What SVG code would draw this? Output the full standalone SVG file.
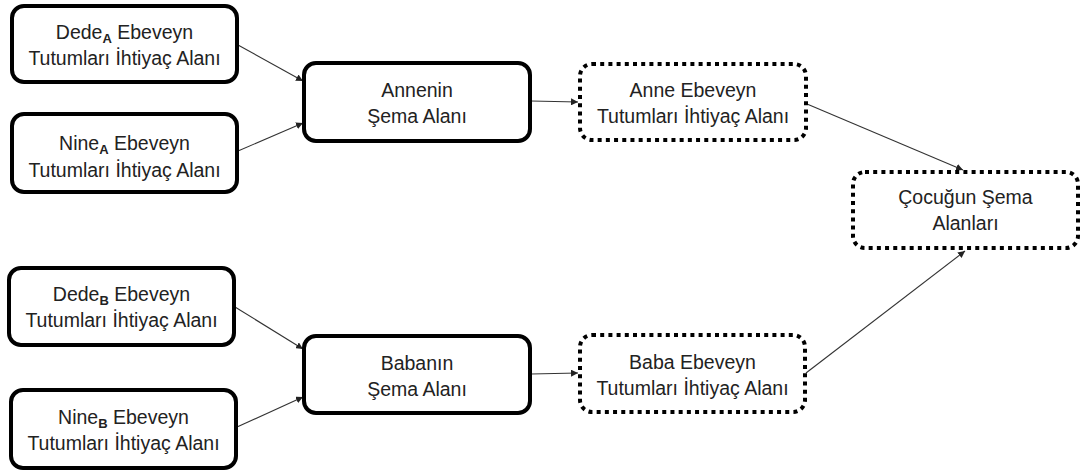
<svg xmlns="http://www.w3.org/2000/svg" width="1084" height="473" viewBox="0 0 1084 473">
<defs>
<marker id="arr" viewBox="0 0 10 10" refX="10" refY="5" markerWidth="7" markerHeight="7" markerUnits="userSpaceOnUse" orient="auto">
<path d="M0,0 L10,5 L0,10 z" fill="#222"/>
</marker>
<style>
.solid{fill:#fff;stroke:#000;stroke-width:4}
.dot{fill:#fff;stroke:#000;stroke-width:4;stroke-dasharray:4 4.2}
.t{font-family:"Liberation Sans","Open Sans",sans-serif;font-size:19.5px;fill:#222;text-anchor:middle}
.sub{font-size:13px;font-weight:bold}
.c{stroke:#333;stroke-width:1.1;fill:none;marker-end:url(#arr)}
</style>
</defs>
<rect width="1084" height="473" fill="#fff"/>
<g id="connectors">
<line class="c" x1="238" y1="45" x2="303" y2="81"/>
<line class="c" x1="238" y1="151" x2="303" y2="123"/>
<line class="c" x1="531" y1="101" x2="578" y2="102"/>
<line class="c" x1="807" y1="104" x2="963" y2="170"/>
<line class="c" x1="235" y1="307" x2="303" y2="349"/>
<line class="c" x1="237" y1="427" x2="303" y2="397"/>
<line class="c" x1="531" y1="374" x2="578" y2="373"/>
<line class="c" x1="806" y1="373" x2="965" y2="251"/>
</g>
<g id="dedeA">
<rect class="solid" x="12" y="6" width="225" height="76" rx="12"/>
<text class="t" x="124.5" y="39">Dede<tspan class="sub" dy="4">A</tspan><tspan dy="-4"> Ebeveyn</tspan></text>
<text class="t" x="124.5" y="65">Tutumları İhtiyaç Alanı</text>
</g>
<g id="nineA">
<rect class="solid" x="12" y="114" width="225" height="78" rx="12"/>
<text class="t" x="124.5" y="150">Nine<tspan class="sub" dy="4">A</tspan><tspan dy="-4"> Ebeveyn</tspan></text>
<text class="t" x="124.5" y="177">Tutumları İhtiyaç Alanı</text>
</g>
<g id="annenin">
<rect class="solid" x="304" y="63" width="226" height="78" rx="12"/>
<text class="t" x="417" y="97">Annenin</text>
<text class="t" x="417" y="123">Şema Alanı</text>
</g>
<g id="anne">
<rect class="dot" x="580" y="64" width="226" height="76" rx="12"/>
<text class="t" x="693" y="97">Anne Ebeveyn</text>
<text class="t" x="693" y="123">Tutumları İhtiyaç Alanı</text>
</g>
<g id="cocugun">
<rect class="dot" x="853" y="172" width="225" height="76" rx="12"/>
<text class="t" x="965.5" y="204">Çocuğun Şema</text>
<text class="t" x="965.5" y="230">Alanları</text>
</g>
<g id="dedeB">
<rect class="solid" x="9" y="268" width="225" height="77" rx="12"/>
<text class="t" x="121.5" y="301">Dede<tspan class="sub" dy="4">B</tspan><tspan dy="-4"> Ebeveyn</tspan></text>
<text class="t" x="121.5" y="327">Tutumları İhtiyaç Alanı</text>
</g>
<g id="nineB">
<rect class="solid" x="11" y="390" width="225" height="78" rx="12"/>
<text class="t" x="123.5" y="424">Nine<tspan class="sub" dy="4">B</tspan><tspan dy="-4"> Ebeveyn</tspan></text>
<text class="t" x="123.5" y="450">Tutumları İhtiyaç Alanı</text>
</g>
<g id="babanin">
<rect class="solid" x="304" y="336" width="226" height="77" rx="12"/>
<text class="t" x="417" y="370">Babanın</text>
<text class="t" x="417" y="396">Şema Alanı</text>
</g>
<g id="baba">
<rect class="dot" x="580" y="335" width="225" height="77" rx="12"/>
<text class="t" x="692.5" y="369">Baba Ebeveyn</text>
<text class="t" x="692.5" y="395">Tutumları İhtiyaç Alanı</text>
</g>
</svg>
